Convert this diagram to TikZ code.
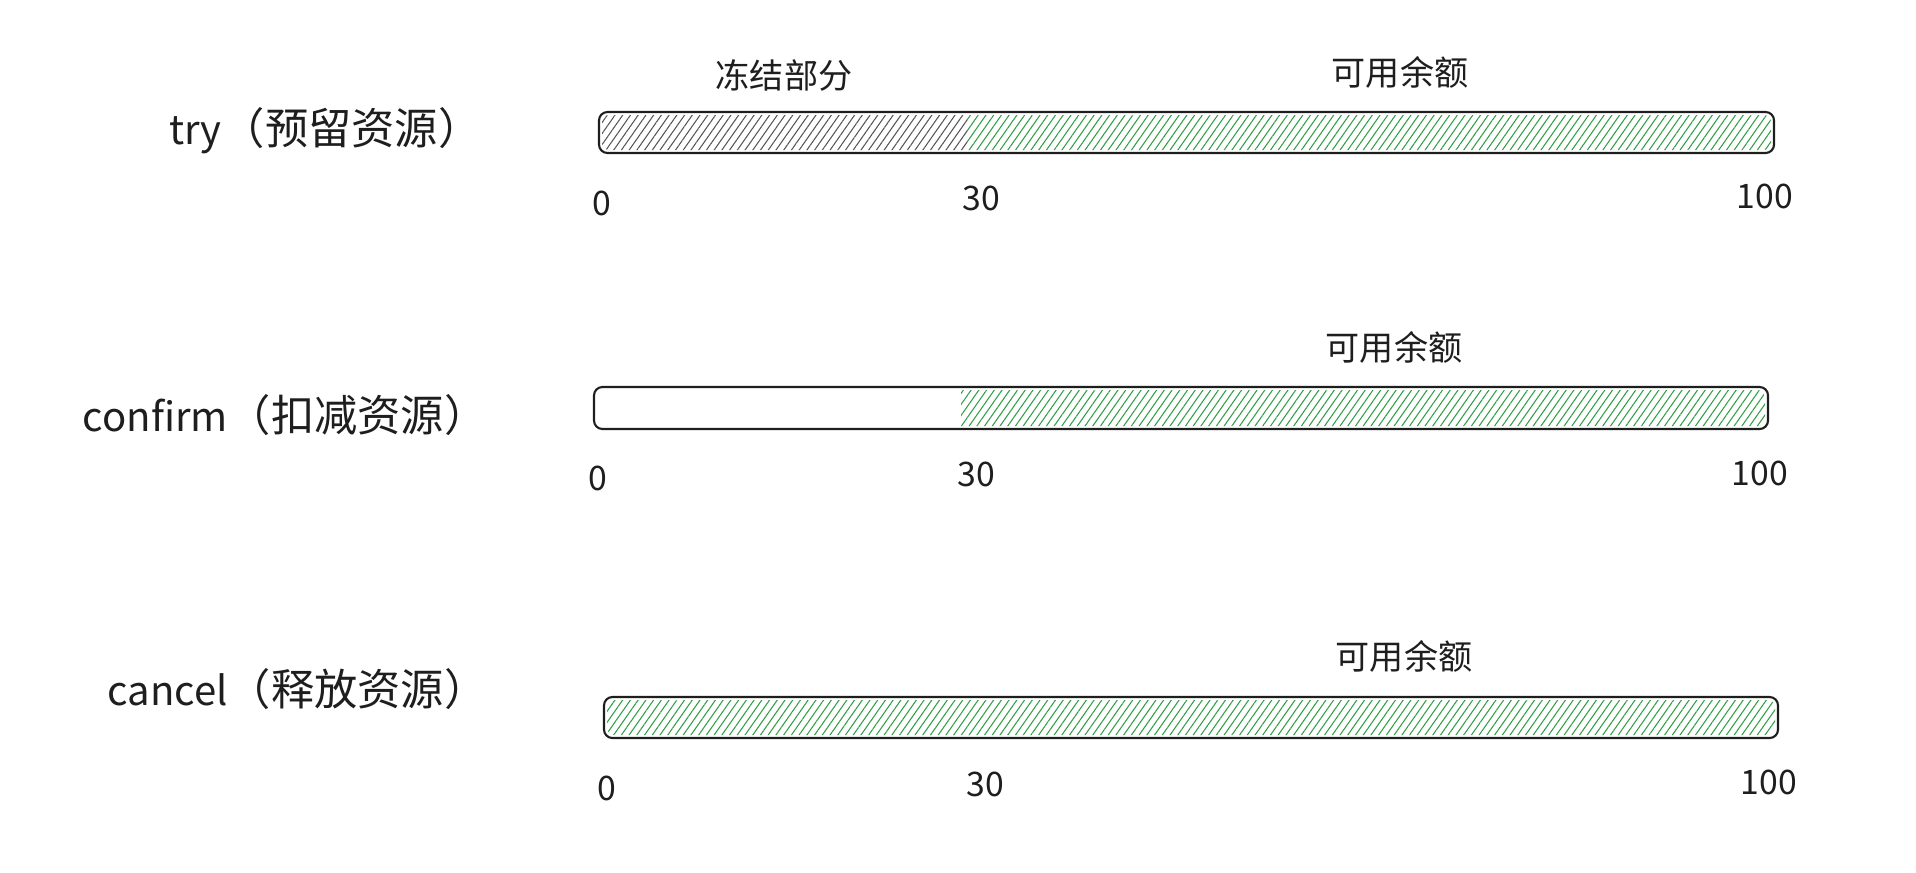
\documentclass[tikz,border=0pt]{standalone}
\usepackage{fontspec}
\newfontfamily\cjk{Noto Sans CJK SC}
\usetikzlibrary{patterns.meta}
\definecolor{inkblack}{HTML}{1E1E1E}
\definecolor{hatchgreen}{HTML}{2F9E44}
\definecolor{hatchgray}{HTML}{555555}
\newcommand{\latinpart}[1]{{\fontsize{11.4}{14}\selectfont #1}}

\begin{document}
\begin{tikzpicture}[x=0.01cm,y=-0.01cm,
  bar/.style={draw=inkblack,line width=0.6pt,rounded corners=2.4pt},
  frozen/.style={pattern={Lines[angle=55,distance=1.8pt,line width=0.3pt]},pattern color=hatchgray},
  free/.style={pattern={Lines[angle=55,distance=1.8pt,line width=0.3pt]},pattern color=hatchgreen},
  phase/.style={font=\cjk\fontsize{12.3}{14}\selectfont,text=inkblack,anchor=east,inner sep=0pt},
  part/.style={font=\cjk\fontsize{9.7}{12}\selectfont,text=inkblack,inner sep=0pt},
  tick/.style={font=\cjk\fontsize{9.6}{11}\selectfont,text=inkblack,inner sep=0pt}]
 \useasboundingbox (0,0) rectangle (1916,872);
 % try
 \begin{scope}
  \clip[rounded corners=2pt] (602,115) rectangle (1771,150);
  \fill[frozen] (602,115) rectangle (967,150);
  \fill[free] (967,115) rectangle (1771,150);
 \end{scope}
 \draw[bar] (599,112) rectangle (1774,153);
 \node[phase] (try) at (482,131) {\latinpart{try}（预留资源）};
 \node[part] (frozen1) at (784,75) {冻结部分};
 \node[part] (avail1) at (1400,72) {可用余额};
 \node[tick] (zero1) at (602,203) {0};
 \node[tick] (thirty1) at (981,198) {30};
 \node[tick] (hundred1) at (1765,196) {100};
 % confirm
 \begin{scope}
  \clip[rounded corners=2pt] (597,390) rectangle (1765,426);
  \fill[free] (961,390) rectangle (1765,426);
 \end{scope}
 \draw[bar] (594,387) rectangle (1768,429);
 \node[phase] (confirm) at (488,415) {\latinpart{confirm}（扣减资源）};
 \node[part] (avail2) at (1394,347) {可用余额};
 \node[tick] (zero2) at (598,478) {0};
 \node[tick] (thirty2) at (976,474) {30};
 \node[tick] (hundred2) at (1760,473) {100};
 % cancel
 \begin{scope}
  \clip[rounded corners=2pt] (607,700) rectangle (1775,735);
  \fill[free] (607,700) rectangle (1775,735);
 \end{scope}
 \draw[bar] (604,697) rectangle (1778,738);
 \node[phase] (cancel) at (488,689) {\latinpart{cancel}（释放资源）};
 \node[part] (avail3) at (1404,656) {可用余额};
 \node[tick] (zero3) at (607,788) {0};
 \node[tick] (thirty3) at (985,784) {30};
 \node[tick] (hundred3) at (1769,782) {100};
\end{tikzpicture}
\end{document}
